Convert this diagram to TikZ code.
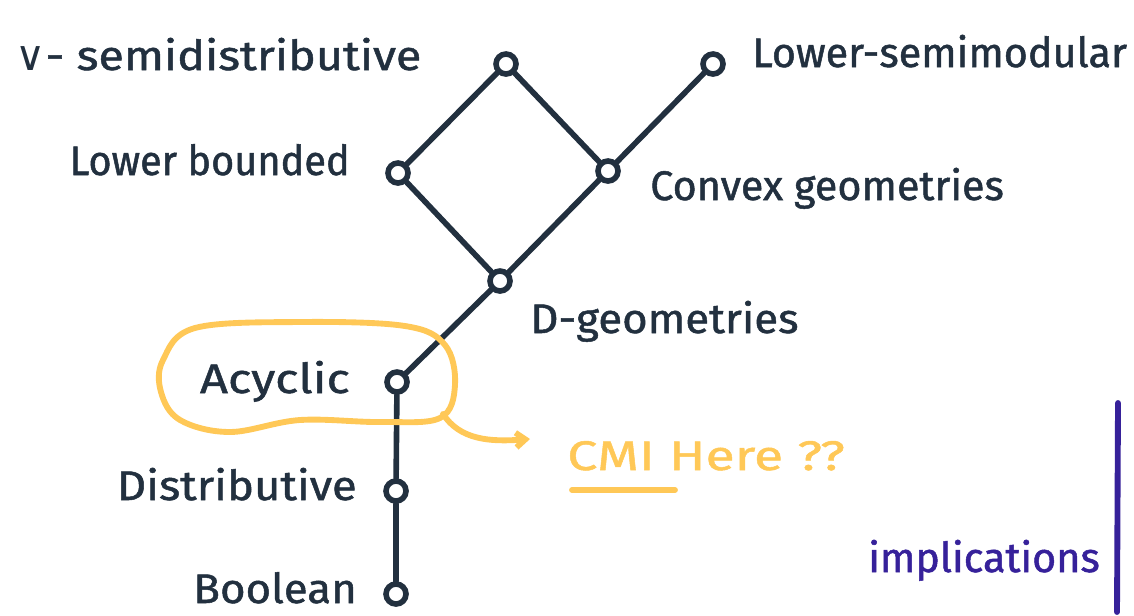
\documentclass[tikz,border=0pt]{standalone}
\usepackage{fontspec}
\setmainfont[FakeBold=1.2]{Fira Sans}
\newfontfamily\symfont{DejaVu Sans}
\usetikzlibrary{arrows.meta}
\definecolor{ink}{HTML}{22303F}
\definecolor{hl}{HTML}{FFC857}
\definecolor{pur}{HTML}{36219A}
\newcommand{\stretchto}[1]{\addfontfeature{FakeStretch=#1}}
\begin{document}
\begin{tikzpicture}[x=0.75pt,y=-0.75pt,
  vtx/.style={circle,draw=ink,line width=4.2pt,fill=white,minimum size=15pt,inner sep=0pt},
  edge/.style={draw=ink,line width=4.2pt,line cap=round},
  lbl/.style={text=ink,font=\fontsize{31}{36}\selectfont,inner sep=0pt},
  hlline/.style={draw=hl,line width=4.4pt,line cap=round,line join=round}]
\useasboundingbox (0,0) rectangle (1134,615);
% vertices
\node[vtx] (jsd) at (506,64) {};
\node[vtx] (lsm) at (713,64) {};
\node[vtx] (lb)  at (398,173) {};
\node[vtx] (cg)  at (608,171) {};
\node[vtx] (dg)  at (500,281) {};
\node[vtx] (ac)  at (397,382) {};
\node[vtx] (di)  at (396,491) {};
\node[vtx] (bo)  at (396,594) {};
% edges
\draw[edge] (jsd) -- (lb);
\draw[edge] (jsd) -- (cg);
\draw[edge] (lsm) -- (cg);
\draw[edge] (lb) -- (dg);
\draw[edge] (cg) -- (dg);
\draw[edge] (dg) -- (ac);
\draw[edge] (ac) -- (di);
\draw[edge] (di) -- (bo);
% labels
\node[lbl,anchor=base west] (tjsd) at (15,70) {\stretchto{1.13}{\symfont ∨}- semidistributive};
\node[lbl,anchor=base west] (tlsm) at (752,67) {Lower-semimodular};
\node[lbl,anchor=base east] (tlb) at (350,175) {\stretchto{0.96}Lower bounded};
\node[lbl,anchor=base west] (tcg) at (650,200) {Convex geometries};
\node[lbl,anchor=base west] (tdg) at (530,333) {\stretchto{1.06}D-geometries};
\node[lbl,anchor=base east] (tac) at (350,393) {\stretchto{1.18}Acyclic};
\node[lbl,anchor=base east] (tdi) at (357,500) {\stretchto{1.1}Distributive};
\node[lbl,anchor=base east] (tbo) at (357,603) {\stretchto{1.06}Boolean};
% highlight
\draw[hlline] plot[smooth cycle,tension=0.6] coordinates {(163,360) (195,328) (300,322) (405,326) (445,345) (455,385) (440,418) (380,422) (300,420) (230,432) (180,420) (161,392)};
\coordinate (arrS) at (443,414);
\node[lbl,text=hl,anchor=base west] (cmi) at (567,470) {\stretchto{1.3}CMI Here ??};
\coordinate (arrE) at (530,439);
\draw[hlline,-{Straight Barb[length=7pt,width=11pt]}] (arrS) .. controls (460,440) and (490,442) .. (arrE);
\coordinate (ulS) at (572,490);
\coordinate (ulE) at (675,490);
\draw[hlline] (ulS) -- (ulE);
% implications
\node[lbl,text=pur,anchor=base west] (impl) at (868,572) {implications};
\coordinate (pS) at (1118,403);
\coordinate (pE) at (1117,612);
\draw[draw=pur,line width=4.4pt,line cap=round] (pS) -- (pE);
\end{tikzpicture}
\end{document}
